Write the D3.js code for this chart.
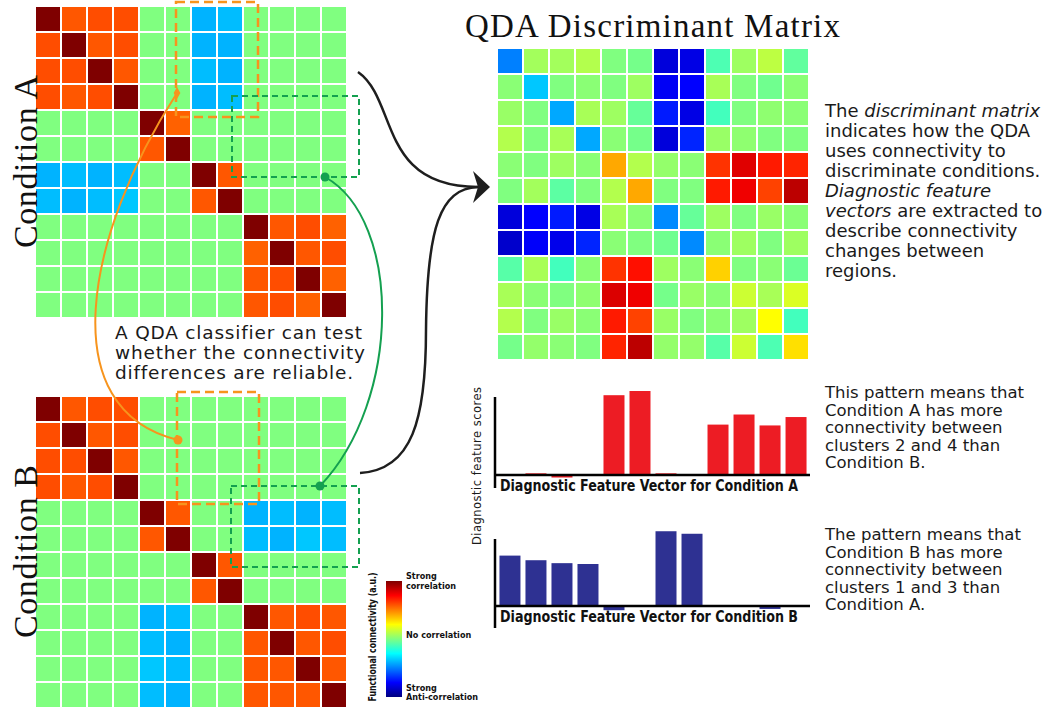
<!DOCTYPE html>
<html lang="en">
<head>
<meta charset="utf-8">
<title>QDA Discriminant Matrix</title>
<script src="https://d3js.org/d3.v7.min.js"></script>
<style>
body { margin: 0; background: #fff; }
svg { display: block; }
.sans { font-family: "DejaVu Sans", "Liberation Sans", sans-serif; fill: #1a1a1a; }
.serif { font-family: "Liberation Serif", "DejaVu Serif", serif; fill: #111; }
.narrow { font-family: "DejaVu Sans Condensed", "Liberation Sans", sans-serif; font-weight: bold; fill: #111; }
.cell { shape-rendering: crispEdges; }
</style>
</head>
<body>
<svg width="1050" height="709"></svg>
<script>

// cluster regions 1..12
var regions = d3.range(1, 13);

var conditionA = [
  [1.00, 0.58, 0.60, 0.60, 0, 0, -0.40, -0.38, 0, 0, 0, 0],
  [0.60, 1.00, 0.58, 0.60, 0, 0, -0.40, -0.40, 0, 0, 0, 0],
  [0.60, 0.60, 1.00, 0.58, 0, 0, -0.38, -0.40, 0, 0, 0, 0],
  [0.60, 0.58, 0.60, 1.00, 0, 0, -0.40, -0.38, 0, 0, 0, 0],
  [0, 0, 0, 0, 1.00, 0.56, 0, 0, 0, 0, 0, 0],
  [0, 0, 0, 0, 0.58, 1.00, 0, 0, 0, 0, 0, 0],
  [-0.40, -0.38, -0.40, -0.38, 0, 0, 1.00, 0.58, 0, 0, 0, 0],
  [-0.38, -0.40, -0.38, -0.36, 0, 0, 0.58, 1.00, 0, 0, 0, 0],
  [0, 0, 0, 0, 0, 0, 0, 0, 1.00, 0.58, 0.60, 0.56],
  [0, 0, 0, 0, 0, 0, 0, 0, 0.56, 1.00, 0.58, 0.60],
  [0, 0, 0, 0, 0, 0, 0, 0, 0.58, 0.60, 1.00, 0.56],
  [0, 0, 0, 0, 0, 0, 0, 0, 0.58, 0.60, 0.56, 1.00]
];

var conditionB = [
  [1.00, 0.58, 0.60, 0.60, 0, 0, 0, 0, 0, 0, 0, 0],
  [0.60, 1.00, 0.58, 0.60, 0, 0, 0, 0, 0, 0, 0, 0],
  [0.60, 0.60, 1.00, 0.58, 0, 0, 0, 0, 0, 0, 0, 0],
  [0.60, 0.58, 0.60, 1.00, 0, 0, 0, 0, 0, 0, 0, 0],
  [0, 0, 0, 0, 1.00, 0.58, 0, 0, -0.40, -0.38, -0.40, -0.38],
  [0, 0, 0, 0, 0.58, 1.00, 0, 0, -0.38, -0.40, -0.36, -0.38],
  [0, 0, 0, 0, 0, 0, 1.00, 0.58, 0, 0, 0, 0],
  [0, 0, 0, 0, 0, 0, 0.58, 1.00, 0, 0, 0, 0],
  [0, 0, 0, 0, -0.40, -0.38, 0, 0, 1.00, 0.58, 0.60, 0.58],
  [0, 0, 0, 0, -0.38, -0.40, 0, 0, 0.58, 1.00, 0.58, 0.60],
  [0, 0, 0, 0, -0.36, -0.38, 0, 0, 0.58, 0.58, 1.00, 0.58],
  [0, 0, 0, 0, -0.38, -0.40, 0, 0, 0.58, 0.58, 0.58, 1.00]
];

var discriminant = [
  [-0.50, 0.07, 0.07, 0.10, 0.00, -0.02, -0.82, -0.80, -0.10, 0.06, 0.12, -0.06],
  [0.02, -0.36, 0.00, 0.02, 0.00, 0.06, -0.77, -0.75, 0.08, 0.00, -0.03, 0.02],
  [0.05, 0.00, -0.42, 0.08, 0.06, -0.05, -0.70, -0.80, -0.12, 0.00, 0.03, 0.02],
  [0.10, 0.00, 0.08, -0.42, 0.02, -0.02, -0.82, -0.68, 0.05, 0.03, 0.00, 0.00],
  [0.02, 0.00, 0.06, 0.02, 0.42, 0.10, 0.04, 0.02, 0.65, 0.81, 0.70, 0.68],
  [0.00, 0.07, -0.07, 0.00, 0.10, 0.42, 0.00, 0.00, 0.70, 0.78, 0.62, 0.88],
  [-0.82, -0.75, -0.70, -0.80, 0.08, 0.02, -0.48, -0.05, 0.06, 0.00, 0.05, 0.02],
  [-0.85, -0.76, -0.79, -0.68, 0.02, 0.00, -0.03, -0.48, 0.02, 0.06, 0.00, 0.06],
  [-0.08, 0.08, -0.12, 0.02, 0.65, 0.72, 0.06, 0.02, 0.34, 0.00, 0.02, -0.04],
  [0.08, 0.02, 0.00, 0.03, 0.82, 0.78, -0.02, 0.05, 0.02, 0.15, 0.08, 0.18],
  [0.10, 0.00, 0.05, 0.02, 0.70, 0.62, 0.05, 0.00, 0.02, 0.06, 0.25, -0.12],
  [-0.02, 0.04, 0.02, 0.00, 0.68, 0.88, 0.04, 0.04, -0.08, 0.15, -0.10, 0.31]
];

var featureA = [0, 0.02, -0.03, 0, 0.95, 1.00, 0.02, 0, 0.60, 0.72, 0.59, 0.69];
var featureB = [0.60, 0.545, 0.51, 0.50, -0.05, 0.01, 0.89, 0.86, 0.01, 0, -0.035, 0];

var titleText = 'QDA Discriminant Matrix';
var classifierText = ['A QDA classifier can test', 'whether the connectivity', 'differences are reliable.'];
var matrixNote = [
  [['The ', false], ['discriminant matrix', true]],
  [['indicates how the QDA', false]],
  [['uses connectivity to', false]],
  [['discriminate conditions.', false]],
  [['Diagnostic feature', true]],
  [['vectors', true], [' are extracted to', false]],
  [['describe connectivity', false]],
  [['changes between', false]],
  [['regions.', false]]
];
var noteA = ['This pattern means that', 'Condition A has more', 'connectivity between', 'clusters 2 and 4 than', 'Condition B.'];
var noteB = ['The pattern means that', 'Condition B has more', 'connectivity between', 'clusters 1 and 3 than', 'Condition A.'];
var colorbarLabels = [
  {value: 1.0, lines: ['Strong', 'correlation']},
  {value: 0.0, lines: ['No correlation']},
  {value: -1.0, lines: ['Strong', 'Anti-correlation']}
];

var svg = d3.select('svg');

// jet colormap
var jet = d3.scaleLinear()
  .domain([-1, -0.75, -0.25, 0.25, 0.75, 1])
  .range(['#00007f', '#0000ff', '#00ffff', '#ffff00', '#ff0000', '#7f0000'])
  .interpolate(d3.interpolateRgb)
  .clamp(true);

function drawMatrix(data, x0, y0) {
  var band = d3.scaleBand().domain(d3.range(data.length)).range([0, 310]).paddingInner(0.08);
  var cells = data.flatMap((row, r) => row.map((v, c) => ({r, c, v})));
  svg.append('g')
    .attr('transform', `translate(${x0},${y0})`)
    .selectAll('rect')
    .data(cells)
    .enter()
    .append('rect')
    .attr('class', 'cell')
    .attr('x', d => band(d.c))
    .attr('y', d => band(d.r))
    .attr('width', band.bandwidth())
    .attr('height', band.bandwidth())
    .attr('fill', d => jet(d.v));
}

drawMatrix(conditionA, 36, 7);
drawMatrix(conditionB, 36, 397);
drawMatrix(discriminant, 498, 49);

// dashed boxes
function dashedBox(x0, y0, x1, y1, color, dash, w) {
  svg.append('rect')
    .attr('x', x0).attr('y', y0)
    .attr('width', x1 - x0).attr('height', y1 - y0)
    .attr('fill', 'none')
    .attr('stroke', color)
    .attr('stroke-width', w)
    .attr('stroke-dasharray', dash);
}
var orange = '#f7941d', green = '#14a050';
dashedBox(176, 2, 258, 117, orange, '9,5', 2.5);
dashedBox(177, 392, 259, 504, orange, '9,5', 2.5);
dashedBox(232, 96, 359, 177, green, '6,4', 2);
dashedBox(231, 486, 359, 567, green, '6,4', 2);

// connecting curves
function curve(points, color, w) {
  var p = d3.path();
  p.moveTo(points[0][0], points[0][1]);
  for (var i = 1; i < points.length; i += 3) {
    p.bezierCurveTo(points[i][0], points[i][1], points[i + 1][0], points[i + 1][1], points[i + 2][0], points[i + 2][1]);
  }
  svg.append('path')
    .attr('d', p.toString())
    .attr('fill', 'none')
    .attr('stroke', color)
    .attr('stroke-width', w);
}
curve([[177, 93], [85, 235], [52, 410], [178, 440]], orange, 2);
curve([[325, 177], [402, 220], [402, 400], [320, 486]], green, 2);
curve([[358, 72], [398, 100], [378, 187], [478, 187]], '#1e1e1e', 2.5);
curve([[360, 473], [412, 470], [426, 420], [426, 330], [427, 228], [440, 188], [478, 187]], '#1e1e1e', 2.5);

svg.append('path')
  .attr('d', 'M490,187 L473,171 L478,187 L473,203 Z')
  .attr('fill', '#1e1e1e');

svg.append('path')
  .attr('d', d3.symbol(d3.symbolDiamond, 40)())
  .attr('transform', 'translate(177,93)')
  .attr('fill', orange);
svg.append('circle').attr('cx', 178).attr('cy', 440).attr('r', 4.5).attr('fill', orange);
svg.append('circle').attr('cx', 325).attr('cy', 177).attr('r', 4.5).attr('fill', green);
svg.append('circle').attr('cx', 320).attr('cy', 486).attr('r', 4.5).attr('fill', green);

// titles
svg.append('text')
  .attr('class', 'serif')
  .attr('x', 465).attr('y', 37)
  .attr('font-size', 33)
  .attr('textLength', 375)
  .text(titleText);

[['Condition A', 161.5], ['Condition B', 551.5]].forEach(([label, cy]) => {
  svg.append('text')
    .attr('class', 'serif')
    .attr('transform', `translate(37,${cy})rotate(-90)`)
    .attr('text-anchor', 'middle')
    .attr('font-size', 34)
    .attr('textLength', 173)
    .text(label);
});

svg.append('text')
  .attr('class', 'sans')
  .attr('font-size', 18.5)
  .attr('letter-spacing', 0.8)
  .selectAll('tspan')
  .data(classifierText)
  .enter()
  .append('tspan')
  .attr('x', 115)
  .attr('y', (d, i) => 339 + i * 20)
  .text(d => d);

// right side notes
var note = svg.append('text')
  .attr('class', 'sans')
  .attr('font-size', 18);
matrixNote.forEach((parts, i) => {
  parts.forEach((part, j) => {
    var t = note.append('tspan')
      .attr('font-style', part[1] ? 'italic' : 'normal')
      .text(part[0]);
    if (j === 0) t.attr('x', 825).attr('y', 117 + i * 20);
  });
});

[[noteA, 398], [noteB, 540]].forEach(([lines, y0]) => {
  svg.append('text')
    .attr('class', 'sans')
    .attr('font-size', 16.5)
    .selectAll('tspan')
    .data(lines)
    .enter()
    .append('tspan')
    .attr('x', 825)
    .attr('y', (d, i) => y0 + i * 17.5)
    .text(d => d);
});

// diagnostic feature bar charts
var xBar = d3.scaleBand().domain(regions).range([498, 808]).paddingInner(0.08);
var barW = 21;

function drawBars(values, base, color, label) {
  var y = d3.scaleLinear().domain([0, 1]).range([base, base - 84]);
  svg.append('g')
    .selectAll('rect')
    .data(values)
    .enter()
    .append('rect')
    .attr('x', (d, i) => xBar(regions[i]) + (xBar.bandwidth() - barW) / 2)
    .attr('y', d => Math.min(y(d), y(0)))
    .attr('width', barW)
    .attr('height', d => Math.max(Math.abs(y(d) - y(0)), 1))
    .attr('fill', color);
  svg.append('line')
    .attr('x1', 494).attr('x2', 810)
    .attr('y1', y(0)).attr('y2', y(0))
    .attr('stroke', '#000').attr('stroke-width', 2.5);
  svg.append('text')
    .attr('class', 'narrow')
    .attr('x', 500).attr('y', base + 16)
    .attr('font-size', 16)
    .attr('textLength', 298)
    .attr('lengthAdjust', 'spacingAndGlyphs')
    .text(label);
}
drawBars(featureA, 475, '#ed1c24', 'Diagnostic Feature Vector for Condition A');
drawBars(featureB, 606, '#2e3192', 'Diagnostic Feature Vector for Condition B');

svg.append('line').attr('x1', 495).attr('x2', 495).attr('y1', 397).attr('y2', 488)
  .attr('stroke', '#000').attr('stroke-width', 2.5);
svg.append('line').attr('x1', 495).attr('x2', 495).attr('y1', 539).attr('y2', 628)
  .attr('stroke', '#000').attr('stroke-width', 2.5);

svg.append('text')
  .attr('class', 'sans')
  .attr('transform', 'translate(481,466)rotate(-90)')
  .attr('text-anchor', 'middle')
  .attr('font-size', 11.5)
  .attr('fill', '#333')
  .attr('textLength', 158)
  .text('Diagnostic feature scores');

// colorbar
var cb = d3.scaleLinear().domain([-1, 1]).range([697, 581]);
var grad = svg.append('defs').append('linearGradient')
  .attr('id', 'jet')
  .attr('x1', 0).attr('y1', 1).attr('x2', 0).attr('y2', 0);
grad.selectAll('stop')
  .data(d3.range(-1, 1.001, 0.125))
  .enter()
  .append('stop')
  .attr('offset', d => (d + 1) / 2)
  .attr('stop-color', d => jet(d));
svg.append('rect')
  .attr('x', 386).attr('y', cb(1))
  .attr('width', 16).attr('height', cb(-1) - cb(1))
  .attr('fill', 'url(#jet)');

svg.append('text')
  .attr('class', 'narrow')
  .attr('transform', `translate(376,${cb(0) - 2})rotate(-90)`)
  .attr('text-anchor', 'middle')
  .attr('font-size', 10)
  .attr('textLength', 129)
  .attr('lengthAdjust', 'spacingAndGlyphs')
  .text('Functional connectivity (a.u.)');

colorbarLabels.forEach(d => {
  var yTop = d.value > 0 ? cb(d.value) - 2 : d.value < 0 ? cb(d.value) - 6.5 : cb(d.value) - 1.5;
  svg.append('text')
    .attr('class', 'narrow')
    .attr('font-size', 9)
    .selectAll('tspan')
    .data(d.lines)
    .enter()
    .append('tspan')
    .attr('x', 406)
    .attr('y', (t, i) => yTop + i * 9.5)
    .text(t => t);
});

</script>
</body>
</html>
